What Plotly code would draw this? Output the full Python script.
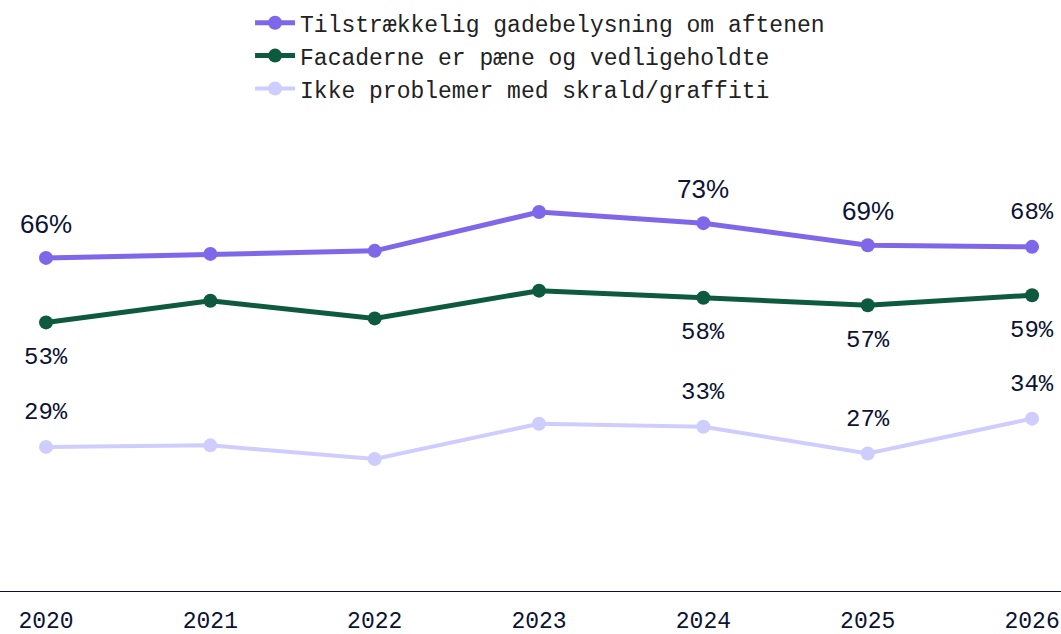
import plotly.graph_objects as go

years = [2020, 2021, 2022, 2023, 2024, 2025, 2026]

names = [
    "Tilstrækkelig gadebelysning om aftenen",
    "Facaderne er pæne og vedligeholdte",
    "Ikke problemer med skrald/graffiti",
]
lys = [66.1, 66.9, 67.5, 75.2, 73.0, 68.6, 68.3]
facader = [53.3, 57.6, 54.1, 59.6, 58.2, 56.7, 58.7]
skrald = [28.6, 28.9, 26.2, 33.2, 32.6, 27.3, 34.2]

colors = ["#7f67ea", "#0e5a3e", "#cfcdfd"]
widths = [5, 5, 4]

# which years get a value label, and which of those are big sans labels
label_years = [2020, 2024, 2025, 2026]
big_labels = [(0, 2020), (0, 2024), (0, 2025)]
label_side = [1, -1, 1]  # 1 = above, -1 = below

mono = "Courier New, Liberation Mono, monospace"
ink = "#0d1333"

fig = go.Figure()
series = [lys, facader, skrald]
for i, vals in enumerate(series):
    fig.add_trace(go.Scatter(
        x=years, y=vals, name=names[i], mode="lines+markers",
        line=dict(color=colors[i], width=widths[i]),
        marker=dict(color=colors[i], size=14),
    ))

for i, vals in enumerate(series):
    for x, v in zip(years, vals):
        if x not in label_years:
            continue
        big = (i, x) in big_labels
        fig.add_annotation(
            x=x, y=v, text=f"{round(v)}%", showarrow=False,
            yshift=34 * label_side[i] + (0 if label_side[i] > 0 else -1),
            font=dict(family="Liberation Sans, Arial, sans-serif" if big else mono,
                      size=26 if big else 24, color=ink),
        )

fig.update_layout(
    width=1061, height=634,
    paper_bgcolor="white", plot_bgcolor="white",
    margin=dict(l=0, r=0, t=140, b=43, autoexpand=False),
    showlegend=True,
    legend=dict(x=0.509, xanchor="center", y=0.998, yanchor="top", yref="container",
                font=dict(family=mono, size=23, color="#222222"),
                tracegroupgap=0, itemwidth=40),
)
fig.update_xaxes(range=[2019.72, 2026.176], tickvals=years, showgrid=False, zeroline=False,
                 showline=True, linecolor=ink, linewidth=1, ticks="", automargin=False,
                 ticklabelstandoff=8,
                 tickfont=dict(family=mono, size=23, color=ink))
fig.update_yaxes(range=[0, 89.5], visible=False, showgrid=False, automargin=False)

fig.write_html("out.html", config={"displayModeBar": False},
               post_script="document.body.style.margin='0';")
